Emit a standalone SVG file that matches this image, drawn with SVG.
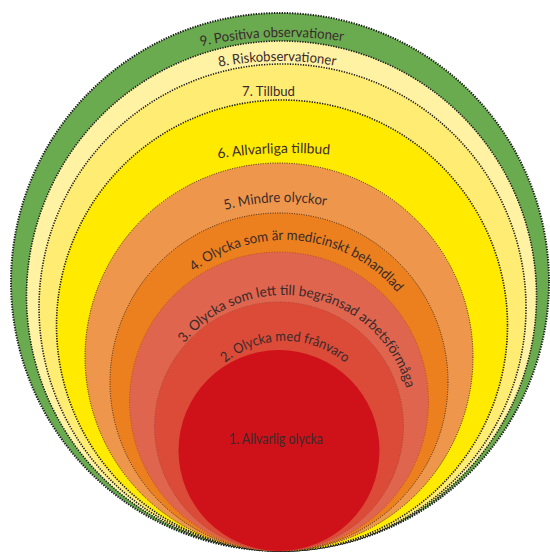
<svg xmlns="http://www.w3.org/2000/svg" xmlns:xlink="http://www.w3.org/1999/xlink" width="550" height="554" viewBox="0 0 550 554">
<style>
.lbl{font-family:"Lato","Open Sans","DejaVu Sans",sans-serif;font-size:14px;fill:#3a2a2c}
.dk{stroke:#1c1c1c;stroke-width:1.6;stroke-dasharray:1.3 1.3}
.md{stroke:#3a2418;stroke-width:1;stroke-dasharray:1 1.4}
.lt{stroke:#8c3626;stroke-width:0.9;stroke-dasharray:1 1.6;stroke-opacity:0.7}
</style>
<defs>
<path id="p9" d="M201 46.2 A390 390 0 0 1 343 41.3"/>
<path id="p8" d="M219 66.9 A320 320 0 0 1 335 65.8"/>
<path id="p7" d="M242 95.5 L295 95.5"/>
<path id="p6" d="M218 158.4 A487 487 0 0 1 330 154.6"/>
<path id="p5" d="M225 210 A230 230 0 0 1 327 205.9"/>
<path id="p4" d="M194.1 271.7 A146 146 0 0 1 397.7 293.1"/>
<path id="p3" d="M184.3 343.3 A127 127 0 0 1 406.7 389.1"/>
<path id="p2" d="M225.2 362.8 A93 93 0 0 1 345.5 363.4"/>
</defs>
<rect width="550" height="554" fill="#ffffff"/>
<g id="n9">
<circle cx="280" cy="282" r="269" fill="#6aab50" class="dk" style="stroke-width:2"/>
<text class="lbl"><textPath xlink:href="#p9" href="#p9" textLength="143" lengthAdjust="spacingAndGlyphs">9. Positiva observationer</textPath></text>
</g>
<g id="n8">
<circle cx="281.5" cy="296" r="255" fill="#fff2a2" class="dk"/>
<text class="lbl"><textPath xlink:href="#p8" href="#p8" textLength="117" lengthAdjust="spacingAndGlyphs">8. Riskobservationer</textPath></text>
</g>
<g id="n7">
<circle cx="282.5" cy="307.5" r="243.5" fill="#ffec72" class="dk"/>
<text class="lbl"><textPath xlink:href="#p7" href="#p7" textLength="53" lengthAdjust="spacingAndGlyphs">7. Tillbud</textPath></text>
</g>
<g id="n6">
<circle cx="282" cy="325.5" r="225.5" fill="#ffea00" class="dk"/>
<text class="lbl"><textPath xlink:href="#p6" href="#p6" textLength="112" lengthAdjust="spacingAndGlyphs">6. Allvarliga tillbud</textPath></text>
</g>
<g id="n5">
<circle cx="279" cy="357" r="194" fill="#ee974c" class="md"/>
<text class="lbl"><textPath xlink:href="#p5" href="#p5" textLength="102" lengthAdjust="spacingAndGlyphs">5. Mindre olyckor</textPath></text>
</g>
<g id="n4">
<circle cx="279" cy="382" r="169" fill="#ec801e" class="md"/>
<text class="lbl"><textPath xlink:href="#p4" href="#p4" textLength="226" lengthAdjust="spacingAndGlyphs">4. Olycka som är medicinskt behandlad</textPath></text>
</g>
<g id="n3">
<circle cx="279" cy="401.5" r="149.5" fill="#df654e" class="lt"/>
<text class="lbl"><textPath xlink:href="#p3" href="#p3" textLength="280" lengthAdjust="spacingAndGlyphs">3. Olycka som lett till begränsad arbetsförmåga</textPath></text>
</g>
<g id="n2">
<circle cx="279" cy="426.5" r="124.5" fill="#db4b38" class="lt"/>
<text class="lbl"><textPath xlink:href="#p2" href="#p2" textLength="130" lengthAdjust="spacingAndGlyphs">2. Olycka med frånvaro</textPath></text>
</g>
<g id="n1">
<circle cx="279" cy="450.5" r="100.5" fill="#cf1219"/>
<text class="lbl" x="276" y="444" text-anchor="middle" textLength="94" lengthAdjust="spacingAndGlyphs" style="font-size:15px">1. Allvarlig olycka</text>
</g>
<g id="connectors"/>
</svg>
